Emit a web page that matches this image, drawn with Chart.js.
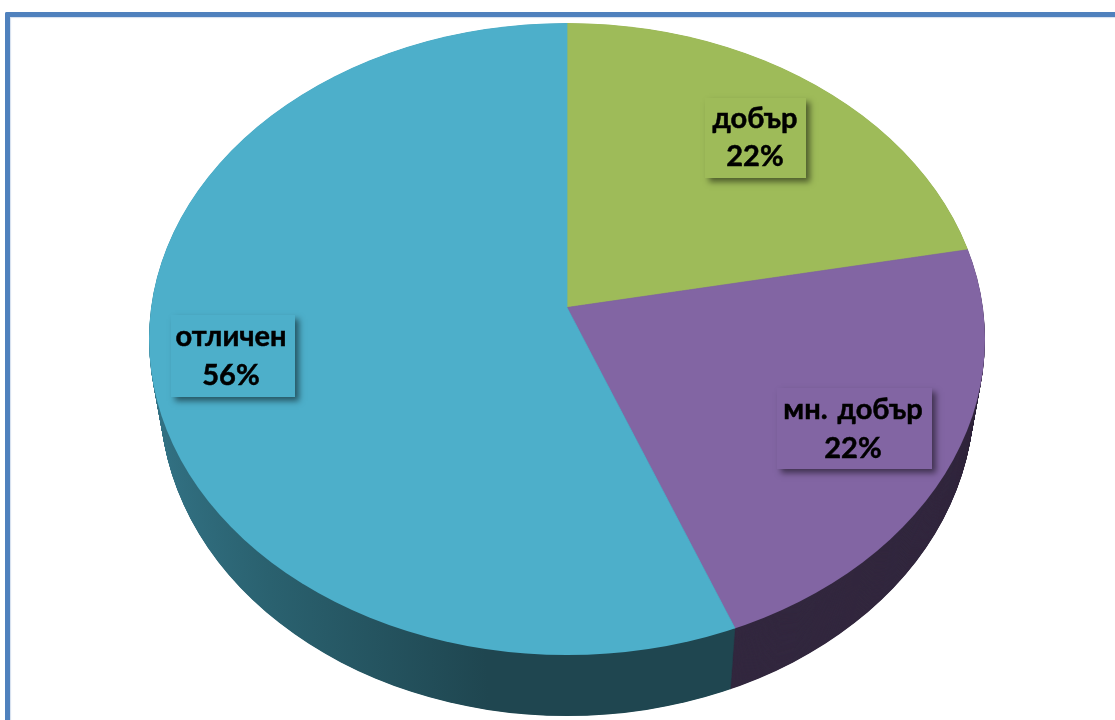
<!DOCTYPE html>
<html><head><meta charset="utf-8">
<script src="https://cdn.jsdelivr.net/npm/chart.js@4"></script>
<style>
html,body{margin:0;padding:0;background:#fff;overflow:hidden}
#wrap{position:relative;width:1115px;height:720px}
canvas{position:absolute;left:0;top:0}
#frame{position:absolute;left:5px;top:12px;right:0;bottom:0;border-left:5px solid #4f81bd;border-top:5px solid #4f81bd;border-top-left-radius:2px;box-shadow:inset 1px 1px 1px rgba(79,129,189,.25)}
</style></head>
<body><div id="wrap"><canvas id="c" width="1115" height="720"></canvas><div id="frame"></div></div>
<script>
const categories = ['добър', 'мн. добър', 'отличен'];
const percents = [22, 22, 56];
const topColors = ['#9ebb59', '#8265a3', '#4dafca'];
const wallColors = ['#5f7035', '#33283f', null];

// layout constants of the tilted pie
const apex = {x: 567, y: 307.5};
const scaleX = 1.4, scaleY = 1.4 * 0.756;
const rim = {cy: 339, rx: 418, ry: 316};
const lowerRim = {cy: 398, rx: 407, ry: 318};
const labelBoxes = [
  {l: 705, t: 98,  r: 806, b: 178, cx: 755, base: [128, 166]},
  {l: 777, t: 388, r: 932, b: 469, cx: 853, base: [419, 458]},
  {l: 171, t: 315, r: 295, b: 397, cx: 231, base: [346, 385]}
];
const labelFont = 'bold 29px Lato, "Noto Sans", sans-serif';

function lerp(a, b, t) { return a + (b - a) * t; }

function placePie(ctx, chart, t) {
  const rx = lerp(rim.rx, lowerRim.rx, t), ry = lerp(rim.ry, lowerRim.ry, t);
  const cy = lerp(rim.cy, lowerRim.cy, t);
  const a = chart.chartArea;
  ctx.beginPath();
  ctx.ellipse(apex.x, cy, rx, ry, 0, 0, Math.PI * 2);
  ctx.clip();
  ctx.translate(apex.x, apex.y + (lowerRim.cy - rim.cy) * t);
  ctx.scale(scaleX * rx / rim.rx, scaleY * ry / rim.ry);
  ctx.translate(-(a.left + a.right) / 2, -(a.top + a.bottom) / 2);
}

const tiltedPie = {
  id: 'tiltedPie',
  beforeDatasetsDraw(chart) {
    const ctx = chart.ctx;
    const arcs = chart.getDatasetMeta(0).data;
    const grad = ctx.createLinearGradient(150, 0, 500, 0);
    grad.addColorStop(0, '#3f8aa0');
    grad.addColorStop(0.2, '#36798d');
    grad.addColorStop(0.55, '#2a616f');
    grad.addColorStop(1, '#1f4650');
    const steps = 120;
    for (let i = steps; i > 0; i--) {
      const t = i / steps;
      arcs.forEach((arc, k) => {
        const fill = wallColors[k] || grad;
        const saved = arc.options;
        arc.options = Object.create(saved, {
          backgroundColor: {value: fill},
          borderColor: {value: fill}
        });
        ctx.save();
        placePie(ctx, chart, t);
        arc.draw(ctx);
        ctx.restore();
        arc.options = saved;
      });
    }
    ctx.save();
    placePie(ctx, chart, 0);
  },
  afterDatasetsDraw(chart) {
    const ctx = chart.ctx;
    ctx.restore();
    labelBoxes.forEach((b, k) => {
      ctx.save();
      ctx.shadowColor = 'rgba(0,0,0,.5)';
      ctx.shadowBlur = 6;
      ctx.shadowOffsetX = 4;
      ctx.shadowOffsetY = 4;
      ctx.fillStyle = topColors[k];
      ctx.fillRect(b.l, b.t, b.r - b.l, b.b - b.t);
      ctx.restore();
      ctx.fillStyle = '#000';
      ctx.strokeStyle = '#000';
      ctx.lineWidth = 0.5;
      ctx.font = labelFont;
      ctx.wordSpacing = '3px';
      ctx.textAlign = 'center';
      ctx.textBaseline = 'alphabetic';
      [categories[k], percents[k] + '%'].forEach((s, j) => {
        ctx.fillText(s, b.cx, b.base[j]);
        ctx.strokeText(s, b.cx, b.base[j]);
      });
      ctx.wordSpacing = '0px';
    });
  }
};

new Chart(document.getElementById('c'), {
  type: 'pie',
  data: {
    labels: categories,
    datasets: [{
      data: percents,
      backgroundColor: topColors,
      borderColor: topColors,
      borderWidth: 0.6
    }]
  },
  options: {
    responsive: false,
    animation: false,
    layout: {padding: 0},
    plugins: {legend: {display: false}, tooltip: {enabled: false}, title: {display: false}}
  },
  plugins: [tiltedPie]
});
</script>
</body></html>
